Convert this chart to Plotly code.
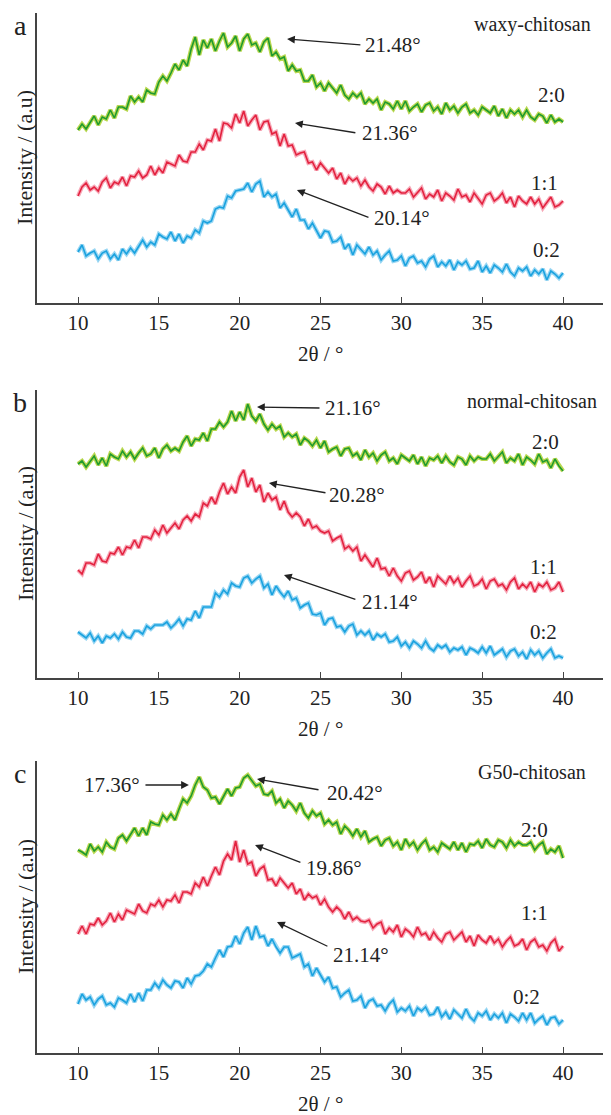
import numpy as np
import plotly.graph_objects as go

# 2theta grid (degrees), step 0.25
two_theta = np.round(np.arange(10, 40.0001, 0.25), 2)

# ---------------- panel a : waxy-chitosan ----------------
a_20 = [173, 179, 174, 181, 187, 178, 186, 184, 193, 185, 196, 196, 194, 207, 201, 206,
        201, 213, 210, 209, 221, 227, 222, 230, 239, 233, 243, 237, 254, 266, 248, 263,
        255, 264, 252, 262, 270, 256, 260, 267, 252, 264, 269, 258, 260, 251, 261, 265,
        247, 251, 244, 246, 232, 238, 232, 233, 222, 222, 228, 216, 220, 212, 220, 215,
        210, 218, 208, 204, 210, 206, 210, 199, 204, 200, 204, 193, 201, 199, 194, 202,
        194, 202, 192, 196, 199, 191, 198, 200, 192, 196, 189, 200, 193, 197, 190, 196,
        199, 190, 193, 188, 196, 193, 190, 197, 187, 194, 185, 193, 189, 193, 186, 193,
        186, 183, 189, 187, 180, 188, 181, 184, 181]
a_11 = [107, 116, 120, 113, 116, 112, 121, 125, 115, 121, 119, 126, 117, 127, 126, 132,
        125, 128, 137, 128, 135, 130, 141, 139, 137, 148, 142, 141, 151, 151, 159, 153,
        163, 162, 174, 162, 180, 179, 175, 189, 180, 192, 177, 183, 188, 173, 181, 182,
        169, 171, 157, 169, 157, 158, 148, 150, 151, 140, 141, 133, 140, 135, 130, 135,
        124, 130, 119, 126, 122, 125, 117, 123, 116, 112, 119, 116, 109, 117, 110, 113,
        110, 110, 114, 106, 111, 115, 104, 109, 106, 113, 102, 110, 107, 103, 114, 106,
        108, 101, 110, 104, 99, 108, 110, 102, 105, 110, 100, 106, 96, 107, 102, 99,
        106, 99, 104, 95, 101, 106, 96, 98, 102]
a_02 = [51, 58, 47, 50, 52, 44, 50, 52, 44, 49, 43, 54, 49, 55, 50, 57,
        63, 56, 61, 58, 69, 66, 64, 71, 62, 69, 60, 67, 65, 73, 70, 82,
        80, 82, 94, 96, 95, 107, 105, 112, 113, 114, 120, 111, 119, 122, 106, 111,
        106, 109, 95, 100, 93, 86, 94, 83, 83, 74, 80, 72, 65, 72, 71, 61,
        62, 66, 54, 59, 48, 58, 53, 49, 56, 48, 52, 43, 48, 52, 42, 43,
        47, 37, 45, 47, 40, 42, 36, 44, 47, 36, 41, 37, 43, 33, 41, 38,
        42, 34, 35, 42, 31, 37, 30, 38, 35, 31, 39, 31, 27, 35, 32, 36,
        27, 33, 29, 34, 23, 32, 29, 25, 30]

# ---------------- panel b : normal-chitosan ----------------
b_20 = [214, 217, 211, 216, 222, 213, 220, 212, 224, 221, 219, 227, 221, 226, 219, 225,
        230, 222, 224, 230, 220, 229, 233, 227, 230, 227, 236, 242, 232, 239, 238, 245,
        237, 249, 249, 256, 251, 256, 267, 257, 266, 258, 274, 262, 257, 264, 254, 248,
        254, 249, 252, 241, 245, 241, 244, 233, 240, 237, 232, 238, 230, 237, 226, 229,
        231, 222, 229, 230, 222, 225, 218, 228, 221, 225, 217, 223, 226, 217, 220, 214,
        223, 220, 217, 223, 214, 221, 212, 220, 218, 222, 215, 222, 216, 213, 221, 219,
        213, 222, 217, 221, 219, 219, 224, 217, 222, 226, 215, 220, 217, 224, 213, 221,
        218, 214, 224, 216, 218, 210, 219, 212, 207]
b_11 = [108, 104, 115, 115, 113, 124, 117, 116, 125, 124, 131, 123, 131, 130, 138, 130,
        141, 141, 139, 148, 143, 153, 145, 150, 155, 149, 158, 162, 157, 164, 161, 175,
        172, 181, 174, 186, 195, 184, 191, 185, 201, 208, 191, 200, 186, 193, 176, 185,
        178, 181, 168, 177, 166, 161, 165, 161, 152, 159, 150, 152, 147, 145, 147, 137,
        140, 142, 129, 132, 127, 131, 117, 123, 117, 111, 120, 109, 110, 102, 110, 102,
        97, 105, 107, 98, 101, 106, 95, 101, 91, 102, 98, 94, 102, 95, 100, 91,
        97, 102, 92, 94, 99, 89, 97, 99, 92, 94, 88, 96, 100, 89, 94, 90,
        96, 86, 94, 91, 96, 88, 90, 96, 86]
b_02 = [46, 43, 40, 45, 37, 42, 35, 42, 40, 44, 39, 46, 41, 40, 47, 47,
        44, 52, 49, 53, 53, 53, 56, 50, 54, 59, 52, 59, 58, 67, 60, 71,
        71, 71, 85, 81, 88, 84, 95, 92, 91, 100, 102, 95, 99, 102, 90, 94,
        83, 92, 86, 81, 87, 78, 80, 70, 73, 75, 64, 63, 65, 53, 59, 60,
        51, 52, 46, 52, 54, 43, 47, 43, 47, 38, 44, 41, 44, 36, 37, 41,
        32, 36, 30, 37, 34, 30, 37, 30, 27, 33, 30, 33, 26, 30, 28, 31,
        23, 30, 28, 25, 31, 25, 32, 23, 26, 29, 21, 27, 29, 22, 26, 19,
        28, 23, 27, 20, 25, 29, 20, 22, 20]

# ---------------- panel c : G50-chitosan ----------------
c_20 = [203, 201, 198, 209, 202, 206, 201, 211, 206, 204, 215, 218, 212, 218, 225, 217,
        225, 218, 231, 229, 228, 238, 233, 239, 233, 244, 254, 250, 257, 268, 276, 266,
        263, 255, 256, 249, 256, 264, 257, 265, 266, 275, 278, 273, 267, 269, 259, 258,
        262, 250, 254, 245, 252, 248, 242, 250, 240, 235, 242, 237, 240, 229, 233, 228,
        231, 219, 227, 223, 217, 224, 216, 222, 211, 214, 216, 207, 213, 215, 207, 211,
        203, 214, 207, 211, 203, 209, 213, 203, 206, 201, 210, 207, 204, 211, 203, 210,
        201, 209, 208, 212, 205, 214, 208, 206, 213, 211, 205, 213, 207, 211, 208, 208,
        211, 203, 208, 211, 199, 204, 201, 207, 195]
c_11 = [119, 127, 119, 129, 128, 135, 128, 132, 140, 131, 139, 133, 143, 141, 139, 149,
        142, 140, 149, 147, 153, 146, 153, 152, 158, 150, 161, 161, 159, 170, 166, 176,
        167, 177, 186, 178, 192, 199, 193, 212, 191, 203, 189, 191, 177, 184, 187, 173,
        174, 167, 175, 170, 165, 170, 159, 164, 153, 159, 155, 157, 148, 154, 146, 141,
        146, 142, 134, 141, 133, 136, 132, 131, 133, 125, 129, 131, 119, 125, 121, 128,
        116, 124, 121, 116, 126, 118, 120, 113, 121, 115, 111, 119, 121, 113, 117, 121,
        111, 117, 107, 118, 113, 110, 117, 110, 114, 106, 112, 116, 107, 109, 114, 103,
        111, 114, 106, 108, 102, 110, 114, 102, 107]
c_02 = [49, 59, 53, 56, 48, 54, 57, 48, 50, 46, 55, 53, 50, 59, 51, 60,
        52, 63, 63, 70, 65, 73, 68, 65, 72, 71, 65, 75, 69, 77, 78, 82,
        89, 86, 95, 103, 96, 106, 107, 117, 109, 120, 126, 113, 127, 116, 117, 107,
        114, 106, 100, 106, 106, 95, 97, 99, 86, 89, 77, 85, 78, 71, 76, 65,
        66, 56, 60, 63, 52, 53, 57, 45, 52, 54, 47, 48, 42, 49, 53, 41,
        45, 42, 47, 37, 45, 42, 46, 38, 39, 46, 36, 41, 34, 43, 39, 35,
        44, 36, 32, 40, 37, 42, 33, 39, 35, 40, 30, 39, 36, 32, 40, 33,
        40, 30, 34, 37, 28, 35, 36, 29, 33]

ratios = ["2:0", "1:1", "0:2"]
panel_titles = ["waxy-chitosan", "normal-chitosan", "G50-chitosan"]
panel_letters = ["a", "b", "c"]
x_ticks = [10, 15, 20, 25, 30, 35, 40]

# peak annotations: (label, text x, text y, arrow tail x, tail y, head x, head y)
peaks_a = [("21.48°", 27.62, 258, 27.56, 258, 22.93, 264),
           ("21.36°", 27.44, 170, 27.25, 170, 23.42, 180),
           ("20.14°", 28.18, 85, 28.06, 85, 23.54, 113)]
peaks_b = [("21.16°", 25.15, 270, 25.03, 270, 21.07, 271),
           ("20.28°", 25.40, 183, 25.40, 185, 21.81, 195),
           ("21.14°", 27.44, 76, 27.25, 78, 22.74, 103)]
peaks_c = [("20.42°", 25.28, 260, 24.97, 263, 21.07, 274),
           ("19.86°", 23.98, 185, 23.85, 190, 20.95, 208),
           ("21.14°", 25.65, 98, 25.52, 106, 22.31, 131)]
peak_c_left = ("17.36°", 13.96, 268, 14.08, 268, 16.86, 268)

ratio_pos = [[(39.31, 208), (38.88, 120), (39.0, 53)],
             [(38.94, 236), (38.82, 111), (38.82, 46)],
             [(38.26, 223), (38.26, 140), (37.77, 56)]]

# ---------------------------------------------------------------
OFF = 8                     # default page margin of the html body
W, H = 611 - OFF, 1115 - OFF
FONT = "Liberation Serif, Times New Roman, Times, DejaVu Serif, serif"
TXT = "#222"
main_cols = ["#1f9a2e", "#e3223f", "#1aa2df"]
halo_cols = ["#b9d850", "#f7a9b8", "#98d6f3"]


def px(xp):
    return (xp - OFF) / W


def py(yp):
    return 1 - (yp - OFF) / H


panels = [
    dict(series=[a_20, a_11, a_02], top=13, bottom=303, peaks=peaks_a),
    dict(series=[b_20, b_11, b_02], top=390, bottom=678, peaks=peaks_b),
    dict(series=[c_20, c_11, c_02], top=761, bottom=1053, peaks=peaks_c),
]

x_left, x_right = 37, 604
px_per_deg = (563 - 78) / 30.0
x_range = [10 - (78 - x_left) / px_per_deg, 40 + (x_right - 563) / px_per_deg]

fig = go.Figure()
layout = dict(width=W, height=H, margin=dict(l=0, r=0, t=0, b=0),
              paper_bgcolor="white", plot_bgcolor="white", showlegend=False,
              font=dict(family=FONT, color=TXT))
annotations = []


def txt(text, x, y, size, xref="paper", yref="paper", xanchor="center", angle=0):
    return dict(text=text, xref=xref, yref=yref, x=x, y=y, xanchor=xanchor,
                yanchor="middle", textangle=angle, showarrow=False,
                font=dict(family=FONT, size=size, color=TXT))


def arrow(xr, yr, hx, hy, tx, ty):
    return dict(text="", xref=xr, yref=yr, x=hx, y=hy, axref=xr, ayref=yr,
                ax=tx, ay=ty, showarrow=True, arrowhead=2, arrowsize=1.2,
                arrowwidth=1.3, arrowcolor=TXT)


for i, p in enumerate(panels):
    xa = "xaxis" if i == 0 else f"xaxis{i+1}"
    ya = "yaxis" if i == 0 else f"yaxis{i+1}"
    xr = "x" if i == 0 else f"x{i+1}"
    yr = "y" if i == 0 else f"y{i+1}"
    yrange = [0, p["bottom"] - p["top"]]
    for s, vals in enumerate(p["series"]):
        fig.add_trace(go.Scatter(x=two_theta, y=vals, mode="lines", xaxis=xr, yaxis=yr,
                                 line=dict(color=halo_cols[s], width=4.2), hoverinfo="skip"))
        fig.add_trace(go.Scatter(x=two_theta, y=vals, mode="lines", xaxis=xr, yaxis=yr,
                                 line=dict(color=main_cols[s], width=1.6), name=ratios[s]))
    layout[xa] = dict(domain=[px(x_left), px(x_right)], range=x_range, anchor=yr,
                      tickvals=x_ticks, ticks="inside", ticklen=6, tickwidth=1.3,
                      tickcolor="#444", showline=True, linecolor="#444", linewidth=1.5,
                      showgrid=False, zeroline=False,
                      tickfont=dict(family=FONT, size=21, color=TXT))
    layout[ya] = dict(domain=[py(p["bottom"]), py(p["top"])], range=yrange,
                      anchor=xr, tickvals=[yrange[1]], ticks="inside", ticklen=6,
                      tickwidth=1.3, tickcolor="#444", showticklabels=False,
                      showline=True, linecolor="#444", linewidth=1.5,
                      showgrid=False, zeroline=False)
    annotations.append(txt("2θ / °", px(320), py(p["bottom"] + 51), 21))
    annotations.append(txt("Intensity / (a.u)", px(25), py((p["top"] + p["bottom"]) / 2),
                           22, angle=-90))
    annotations.append(txt(panel_letters[i], px(20), py(p["top"] + 12), 28))
    annotations.append(txt(panel_titles[i], px(532), py(p["top"] + 11), 20))
    for s, (rx, ry) in enumerate(ratio_pos[i]):
        annotations.append(txt(ratios[s], rx, ry, 21, xref=xr, yref=yr))
    for (lab, tx, ty, ax_, ay_, hx, hy) in p["peaks"]:
        annotations.append(arrow(xr, yr, hx, hy, ax_, ay_))
        annotations.append(txt(lab, tx, ty, 21, xref=xr, yref=yr, xanchor="left"))
    if i == 2:
        lab, tx, ty, ax_, ay_, hx, hy = peak_c_left
        annotations.append(arrow(xr, yr, hx, hy, ax_, ay_))
        annotations.append(txt(lab, tx, ty, 21, xref=xr, yref=yr, xanchor="right"))

layout["annotations"] = annotations
fig.update_layout(**layout)
fig.write_html("out.html")
